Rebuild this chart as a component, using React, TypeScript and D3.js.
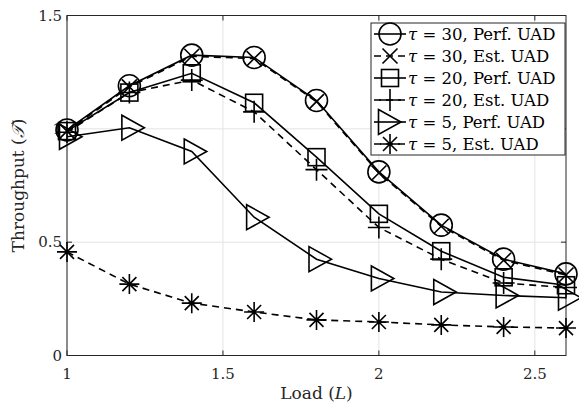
import React from 'react';
import * as d3 from 'd3';

const loads = [1, 1.2, 1.4, 1.6, 1.8, 2.0, 2.2, 2.4, 2.6];
const tau30Perf = [0.995, 1.19, 1.325, 1.315, 1.125, 0.81, 0.575, 0.425, 0.36];
const tau30Est = [0.99, 1.185, 1.32, 1.31, 1.12, 0.805, 0.57, 0.42, 0.355];
const tau20Perf = [0.99, 1.16, 1.245, 1.115, 0.875, 0.625, 0.46, 0.345, 0.31];
const tau20Est = [0.985, 1.16, 1.215, 1.075, 0.82, 0.565, 0.425, 0.32, 0.3];
const tau5Perf = [0.965, 1.005, 0.9, 0.61, 0.425, 0.34, 0.28, 0.265, 0.255];
const tau5Est = [0.457, 0.315, 0.231, 0.192, 0.157, 0.148, 0.135, 0.126, 0.121];

const xTicks = [1, 1.5, 2, 2.5];
const yTicks = [0, 0.5, 1, 1.5];

const seriesList = [
  { label: '30, Perf. UAD', values: tau30Perf, marker: 'circle', dashed: false },
  { label: '30, Est. UAD', values: tau30Est, marker: 'x', dashed: true },
  { label: '20, Perf. UAD', values: tau20Perf, marker: 'square', dashed: false },
  { label: '20, Est. UAD', values: tau20Est, marker: 'plus', dashed: true },
  { label: '5, Perf. UAD', values: tau5Perf, marker: 'triangle', dashed: false },
  { label: '5, Est. UAD', values: tau5Est, marker: 'star', dashed: true },
];

const W = 579;
const H = 409;
const margin = { left: 67, right: 13, top: 15.5, bottom: 53.5 };
const FONT = "'DejaVu Serif', 'Liberation Serif', serif";
const INK = '#000';

const Marker = ({ kind, x, y }: { kind: string; x: number; y: number }) => {
  const s = { fill: 'none', stroke: INK, strokeWidth: 1.6 };
  if (kind === 'circle') return <circle cx={x} cy={y} r={11} {...s} />;
  if (kind === 'square') return <rect x={x - 8.5} y={y - 8.5} width={17} height={17} {...s} />;
  if (kind === 'x') {
    const a = 7.5;
    return <path d={`M${x - a},${y - a}L${x + a},${y + a}M${x - a},${y + a}L${x + a},${y - a}`} {...s} />;
  }
  if (kind === 'plus') {
    const a = 11;
    return <path d={`M${x - a},${y}L${x + a},${y}M${x},${y - a}L${x},${y + a}`} {...s} />;
  }
  if (kind === 'triangle') {
    return <path d={`M${x - 7.5},${y - 12.5}L${x + 15},${y}L${x - 7.5},${y + 12.5}Z`} {...s} />;
  }
  // star: plus + x
  const a = 10;
  const b = 7;
  return (
    <path
      d={`M${x - a},${y}L${x + a},${y}M${x},${y - a}L${x},${y + a}M${x - b},${y - b}L${x + b},${y + b}M${x - b},${y + b}L${x + b},${y - b}`}
      {...s}
    />
  );
};

const App = () => {
  const x = d3.scaleLinear().domain([1, 2.6]).range([margin.left, W - margin.right]);
  const y = d3.scaleLinear().domain([0, 1.5]).range([H - margin.bottom, margin.top]);
  const line = d3
    .line<number>()
    .x((_, i) => x(loads[i]))
    .y((d) => y(d));

  const [x0, x1] = x.range();
  const [y0, y1] = y.range();

  const legX = 371;
  const legY = 23;
  const legW = 194;
  const legH = 132;
  const rowH = 22;

  return (
    <svg width={W} height={H} style={{ position: 'absolute', left: 0, top: 0 }} fontFamily={FONT}>
      <rect x={0} y={0} width={W} height={H} fill="#fff" />
      {/* grid */}
      {xTicks.map((t) => (
        <line key={'gx' + t} x1={x(t)} x2={x(t)} y1={y1} y2={y0} stroke="#e3e3e3" strokeWidth={1} />
      ))}
      {yTicks.map((t) => (
        <line key={'gy' + t} x1={x0} x2={x1} y1={y(t)} y2={y(t)} stroke="#e3e3e3" strokeWidth={1} />
      ))}
      {/* box and ticks */}
      <rect x={x0} y={y1} width={x1 - x0} height={y0 - y1} fill="none" stroke="#262626" strokeWidth={1} />
      {xTicks.map((t) => (
        <g key={'tx' + t}>
          <line x1={x(t)} x2={x(t)} y1={y0} y2={y0 - 5} stroke="#262626" />
          <line x1={x(t)} x2={x(t)} y1={y1} y2={y1 + 5} stroke="#262626" />
          <text x={x(t)} y={y0 + 23} textAnchor="middle" fontSize={15} fill="#262626">
            {t}
          </text>
        </g>
      ))}
      {yTicks.map((t) => (
        <g key={'ty' + t}>
          <line x1={x0} x2={x0 + 5} y1={y(t)} y2={y(t)} stroke="#262626" />
          <line x1={x1} x2={x1 - 5} y1={y(t)} y2={y(t)} stroke="#262626" />
          <text x={x0 - 5} y={y(t) + 5} textAnchor="end" fontSize={15} fill="#262626">
            {t}
          </text>
        </g>
      ))}
      <text x={(x0 + x1) / 2} y={H - 10} textAnchor="middle" fontSize={17} fill="#262626">
        Load (<tspan fontStyle="italic">L</tspan>)
      </text>
      <text
        transform={`translate(24,${(y0 + y1) / 2}) rotate(-90)`}
        textAnchor="middle"
        fontSize={17}
        fill="#262626"
      >
        Throughput (<tspan fontStyle="italic">𝒯</tspan>)
      </text>
      {/* series */}
      {seriesList.map((s) => (
        <g key={s.label}>
          <path
            d={line(s.values) || ''}
            fill="none"
            stroke={INK}
            strokeWidth={1.6}
            strokeDasharray={s.dashed ? '7,5' : undefined}
          />
          {s.values.map((v, i) => (
            <Marker key={i} kind={s.marker} x={x(loads[i])} y={y(v)} />
          ))}
        </g>
      ))}
      {/* legend */}
      <rect x={legX} y={legY} width={legW} height={legH} fill="#fff" stroke="#262626" strokeWidth={1} />
      {seriesList.map((s, i) => {
        const cy = legY + 11 + i * rowH;
        return (
          <g key={'leg' + s.label}>
            <line
              x1={legX + 3}
              x2={legX + 35}
              y1={cy}
              y2={cy}
              stroke={INK}
              strokeWidth={1.6}
              strokeDasharray={s.dashed ? '7,5' : undefined}
            />
            <Marker kind={s.marker} x={legX + 19 - (s.marker === 'triangle' ? 4 : 0)} y={cy} />
            <text x={legX + 37} y={cy + 5.5} fontSize={16.5} fill="#000">
              <tspan fontStyle="italic">τ</tspan> = {s.label}
            </text>
          </g>
        );
      })}
    </svg>
  );
};

export default App;
